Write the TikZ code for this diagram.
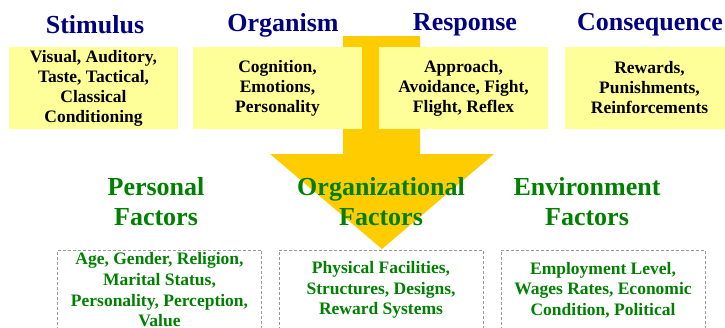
\documentclass[tikz,border=0pt]{standalone}
\usepackage{fontspec}
\setmainfont{Liberation Serif}
\usepackage{tikz}

\definecolor{headblue}{RGB}{0,0,128}
\definecolor{factgreen}{RGB}{0,128,0}
\definecolor{boxyellow}{RGB}{255,255,153}
\definecolor{arrowgold}{RGB}{255,204,0}

\tikzset{
  head/.style={text=headblue,font=\fontsize{26}{28}\selectfont\bfseries},
  facthead/.style={text=factgreen,align=center,font=\fontsize{26}{30}\selectfont\bfseries},
  sorbox/.style={fill=boxyellow,minimum width=169,minimum height=82,inner sep=0,
    align=center,font=\fontsize{17.5}{20}\selectfont\bfseries},
  factbox/.style={draw=gray!80,densely dashed,line width=0.6,minimum width=204,minimum height=100,
    inner sep=0},
  facttext/.style={text=factgreen,align=center,font=\fontsize{17.5}{20.7}\selectfont\bfseries}
}

\begin{document}
\begin{tikzpicture}[x=1pt,y=-1pt]
  \useasboundingbox (0,0) rectangle (725,327);
  \clip (0,0) rectangle (725,327);

  % big arrow behind the boxes
  \fill[arrowgold] (343,36) -- (420,36) -- (420,154) -- (494,154) -- (382,249)
    -- (270,154) -- (343,154) -- cycle;

  \node (stimulus)    at (95,25)  [head] {Stimulus};
  \node (organism)    at (283,25) [head] {Organism};
  \node (response)    at (465,25) [head] {Response};
  \node (consequence) at (650,25) [head] {Consequence};

  \node (stimulusbox)    at (93.5,88)  [sorbox] {Visual, Auditory,\\Taste, Tactical,\\Classical\\Conditioning};
  \node (organismbox)    at (277.5,88) [sorbox] {Cognition,\\Emotions,\\Personality};
  \node (responsebox)    at (463.5,88) [sorbox] {Approach,\\Avoidance, Fight,\\Flight, Reflex};
  \node (consequencebox) at (649.5,88) [sorbox] {Rewards,\\Punishments,\\Reinforcements};

  \node (personal)    at (156,202) [facthead] {Personal\\Factors};
  \node (organization) at (381,202) [facthead] {Organizational\\Factors};
  \node (environment) at (587,202) [facthead] {Environment\\Factors};

  \node (personalbox)     at (159.5,300) [factbox] {};
  \node (organizationbox) at (381,300)   [factbox] {};
  \node (environmentbox)  at (603,300)   [factbox] {};

  \node at (159.5,290) [facttext] {Age, Gender, Religion,\\Marital Status,\\Personality, Perception,\\Value};
  \node at (381,290)   [facttext] {Physical Facilities,\\Structures, Designs,\\Reward Systems};
  \node at (603,290)   [facttext] {Employment Level,\\Wages Rates, Economic\\Condition, Political};
\end{tikzpicture}
\end{document}
